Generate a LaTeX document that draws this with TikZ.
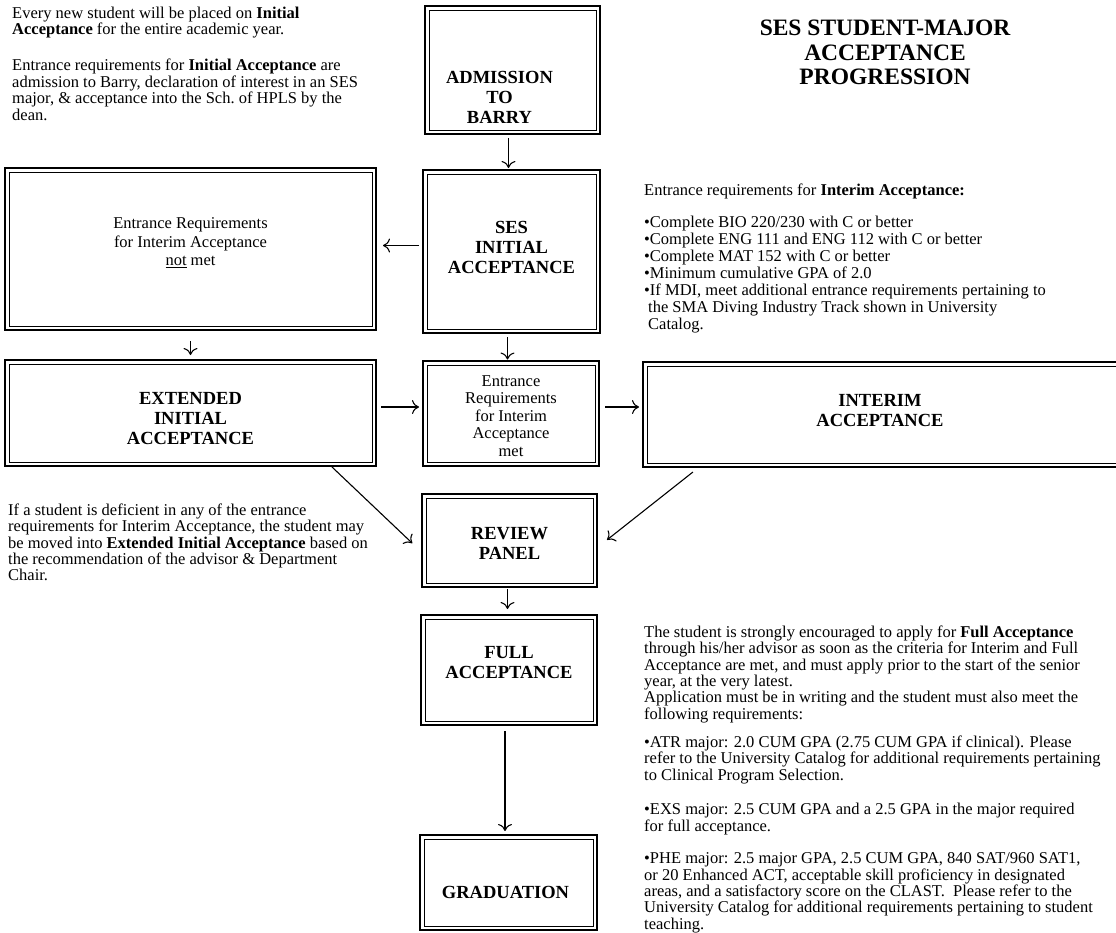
\documentclass[tikz,border=0pt]{standalone}
\usepackage{fontspec}
\setmainfont{Liberation Serif}
\usetikzlibrary{arrows.meta}

\begin{document}
\begin{tikzpicture}[x=1pt, y=-1pt,
  my box/.style={
    draw, line width=2pt, inner sep=0pt,
    path picture={\draw[line width=0.8pt]
      ([shift={(4pt,-4pt)}]path picture bounding box.north west) rectangle
      ([shift={(-4pt,4pt)}]path picture bounding box.south east);},
  },
  my caps/.style={font=\bfseries\fontsize{18.5pt}{20pt}\selectfont, align=center},
  my small/.style={font=\fontsize{16.5pt}{17.5pt}\selectfont, align=center},
  my note/.style={font=\fontsize{16.5pt}{16.4pt}\selectfont, align=left,
    anchor=north west, inner sep=0pt},
  my arrow/.style={line width=1.1pt,
    -{Computer Modern Rightarrow[length=7pt,width=14pt]}},
  ]
  \useasboundingbox (0,0) rectangle (1116,932);

  \node [my box, minimum width=175pt, minimum height=128pt,
    label={[my caps, xshift=-13pt, yshift=-27pt]center:ADMISSION\\TO\\BARRY}]
    (admission) at (512.5,70) {};
  \node [my box, minimum width=177pt, minimum height=163pt,
    label={[my caps, yshift=4.5pt]center:SES\\INITIAL\\ACCEPTANCE}]
    (ses) at (511.5,251.5) {};
  \node [my box, minimum width=371pt, minimum height=162pt,
    label={[my small, font=\fontsize{16.5pt}{18.5pt}\selectfont, yshift=6pt]center:Entrance Requirements\\for Interim Acceptance\\\underline{not} met}]
    (not met) at (190.5,249) {};
  \node [my box, minimum width=371pt, minimum height=106pt,
    label={[my caps, yshift=-6pt]center:EXTENDED\\INITIAL\\ACCEPTANCE}]
    (extended) at (190.5,413) {};
  \node [my box, minimum width=176pt, minimum height=105pt,
    label={[my small, yshift=-2.5pt]center:Entrance\\Requirements\\for Interim\\Acceptance\\met}]
    (met) at (511,413.5) {};
  \node [my box, minimum width=487pt, minimum height=105pt,
    label={[my caps, xshift=-6.5pt, yshift=3.5pt]center:INTERIM\\ACCEPTANCE}]
    (interim) at (886.5,414.5) {};
  \node [my box, minimum width=175pt, minimum height=93pt,
    label={[my caps, yshift=-2.5pt]center:REVIEW\\PANEL}]
    (review) at (509.5,540.5) {};
  \node [my box, minimum width=176pt, minimum height=110pt,
    label={[my caps, yshift=7pt]center:FULL\\ACCEPTANCE}]
    (full) at (509,670) {};
  \node [my box, minimum width=177pt, minimum height=95pt,
    label={[my caps, xshift=-3pt, yshift=-9.5pt]center:GRADUATION}]
    (graduation) at (508.5,882.5) {};

  \node [font=\bfseries\fontsize{23.5pt}{24.5pt}\selectfont, align=center,
    anchor=north, inner sep=0pt] (title) at (885,20)
    {SES STUDENT-MAJOR\\ACCEPTANCE\\PROGRESSION};

  \node [my note] (initial note) at (12,6.5)
    {Every new student will be placed on \textbf{Initial}\\
     \textbf{Acceptance} for the entire academic year.\\[20pt]
     Entrance requirements for \textbf{Initial Acceptance} are\\
     admission to Barry, declaration of interest in an SES\\
     major, \& acceptance into the Sch.\ of HPLS by the\\
     dean.};
  \node [my note, font=\fontsize{16.5pt}{17pt}\selectfont] (interim note) at (644,183.5)
    {Entrance requirements for \textbf{Interim Acceptance:}\\[15pt]
     •Complete BIO 220/230 with C or better\\
     •Complete ENG 111 and ENG 112 with C or better\\
     •Complete MAT 152 with C or better\\
     •Minimum cumulative GPA of 2.0\\
     •If MDI, meet additional entrance requirements pertaining to\\
     \hspace*{4pt}the SMA Diving Industry Track shown in University\\
     \hspace*{4pt}Catalog.};
  \node [my note] (extended note) at (8,503.5)
    {If a student is deficient in any of the entrance\\
     requirements for Interim Acceptance, the student may\\
     be moved into \textbf{Extended Initial Acceptance} based on\\
     the recommendation of the advisor \& Department\\
     Chair.};
  \node [my note] (full note) at (644,625.5)
    {The student is strongly encouraged to apply for \textbf{Full Acceptance}\\
     through his/her advisor as soon as the criteria for Interim and Full\\
     Acceptance are met, and must apply prior to the start of the senior\\
     year, at the very latest.\\
     Application must be in writing and the student must also meet the\\
     following requirements:\\[11.5pt]
     •ATR major: 2.0 CUM GPA (2.75 CUM GPA if clinical). Please\\
     refer to the University Catalog for additional requirements pertaining\\
     to Clinical Program Selection.\\[18.5pt]
     •EXS major: 2.5 CUM GPA and a 2.5 GPA in the major required\\
     for full acceptance.\\[16pt]
     •PHE major: 2.5 major GPA, 2.5 CUM GPA, 840 SAT/960 SAT1,\\
     or 20 Enhanced ACT, acceptable skill proficiency in designated\\
     areas, and a satisfactory score on the CLAST.\ \ Please refer to the\\
     University Catalog for additional requirements pertaining to student\\
     teaching.};

  \draw [my arrow, shorten <=3pt, shorten >=1pt]
    ([xshift=-4pt]admission.south) -- ([xshift=-4pt]admission.south |- ses.north);
  \draw [my arrow, shorten <=3pt, shorten >=6pt]
    ([yshift=6pt]ses.west) -- ([yshift=6pt]ses.west -| not met.east);
  \draw [my arrow, shorten <=10pt, shorten >=4pt] (not met.south) -- (extended.north);
  \draw [my arrow, shorten <=3pt, shorten >=0.5pt]
    ([xshift=-4pt]ses.south) -- ([xshift=-4pt]ses.south |- met.north);
  \draw [my arrow, shorten <=4pt, shorten >=3pt]
    ([yshift=6pt]extended.east) -- ([yshift=6pt]extended.east -| met.west);
  \draw [my arrow, shorten <=5pt, shorten >=3pt]
    ([yshift=6.5pt]met.east) -- ([yshift=6.5pt]met.east -| interim.west);
  \draw [my arrow, shorten >=12pt]
    ([xshift=-45pt]extended.south east) -- ([yshift=-11pt]review.west);
  \draw [my arrow, shorten <=6.5pt, shorten >=11.5pt]
    ([xshift=56pt]interim.south west) -- ([yshift=-6.5pt]review.east);
  \draw [my arrow, shorten <=1pt, shorten >=5pt]
    ([xshift=-2pt]review.south) -- ([xshift=-2pt]review.south |- full.north);
  \draw [my arrow, shorten <=5pt, shorten >=3pt]
    ([xshift=-4pt]full.south) -- ([xshift=-4pt]full.south |- graduation.north);
\end{tikzpicture}
\end{document}
